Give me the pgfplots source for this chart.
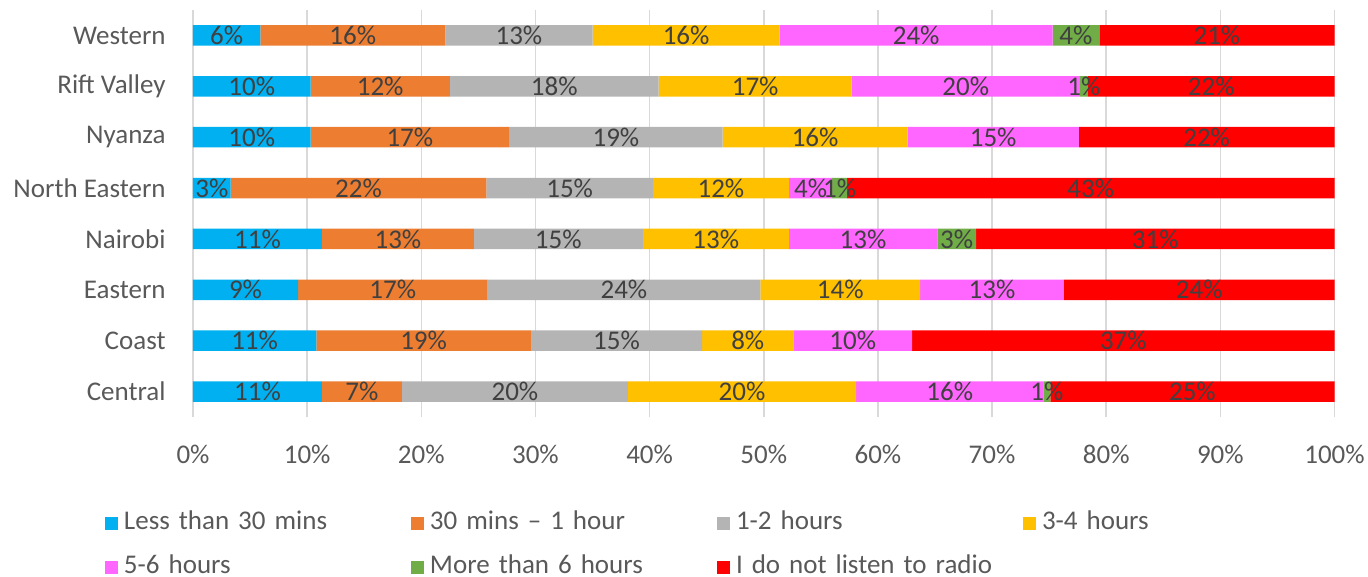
\documentclass[border=0pt]{standalone}
\usepackage{fontspec}
\setmainfont{Carlito}
\usepackage{pgfplots}
\usepackage{pgfplotstable}
\pgfplotsset{compat=1.18}

\definecolor{cLess}{HTML}{00B0F0}
\definecolor{cHalf}{HTML}{ED7D31}
\definecolor{cOneTwo}{HTML}{B4B4B4}
\definecolor{cThreeFour}{HTML}{FFC000}
\definecolor{cFiveSix}{HTML}{FF66FF}
\definecolor{cSix}{HTML}{70AD47}
\definecolor{cNone}{HTML}{FF0000}
\definecolor{txt}{HTML}{595959}
\definecolor{lbl}{HTML}{404040}
\definecolor{grd}{HTML}{D9D9D9}

% share of listeners per region (%), 0 = Central ... 7 = Western
% a: <30 min, b: 30 min-1 h, c: 1-2 h, d: 3-4 h, e: 5-6 h, f: >6 h, g: none
\pgfplotstableread{
idx a    b    c    d    e    f   g
0   11.3 7.0  19.8 20.0 16.4 0.6 24.9
1   10.8 18.8 15.0 8.0  10.4 0.0 37.0
2   9.2  16.6 23.9 14.0 12.6 0.0 23.7
3   11.3 13.3 14.8 12.8 13.0 3.4 31.4
4   3.3  22.4 14.6 11.9 3.8  1.3 42.7
5   10.3 17.4 18.7 16.2 15.0 0.0 22.4
6   10.3 12.2 18.3 16.9 20.0 0.7 21.6
7   5.9  16.2 12.9 16.4 23.9 4.1 20.6
}\radio

\newcommand\seg[3]{%
  \addplot[fill=#2, draw=none,
    legend image code/.code={\fill[#2] (0pt,-3.25pt) rectangle (6.5pt,3.25pt);}]
    table[x=#1, y=idx, meta=#1] {\radio};
  \addlegendentry{#3}}

\begin{document}
\fontsize{13.5}{16}\selectfont
\begin{tikzpicture}
\begin{axis}[
    at={(0,0)}, anchor=south west,
    scale only axis,
    width=570.75pt, height=203.5pt,
    xbar stacked,
    bar width=10.25pt,
    xmin=0, xmax=100,
    ymin=-0.5, ymax=7.5,
    xtick={0,10,...,100},
    xticklabel={\pgfmathprintnumber{\tick}\%},
    ytick={0,...,7},
    yticklabels={Central, Coast, Eastern, Nairobi, North Eastern, Nyanza, Rift Valley, Western},
    /pgf/number format/assume math mode=true,
    axis line style={draw=none},
    major tick length=0pt,
    xmajorgrids=true,
    grid style={grd, line width=0.75pt},
    xticklabel style={text=txt, anchor=north, inner sep=0pt, yshift=-14pt},
    yticklabel style={text=txt, anchor=east, inner sep=0pt, xshift=-13.5pt},
    clip=false,
    point meta=explicit,
    nodes near coords={\pgfmathfloatifflags{\pgfplotspointmeta}{0}{}{\pgfmathprintnumber[fixed, precision=0]{\pgfplotspointmeta}\%}},
    every node near coord/.append style={anchor=center, inner sep=0pt, text=lbl},
    legend columns=4,
    legend style={draw=none, fill=none,
        at={(0,0)}, anchor=north west,
        xshift=-44pt, yshift=-47pt,
        inner sep=0pt, outer sep=0pt,
        row sep=10pt,
        nodes={inner sep=0pt, text width=143.5pt, align=left,
               text height=9pt, text depth=3pt, text=txt},
        /tikz/every odd column/.append style={column sep=3pt}},
    legend cell align=left,
]
\seg{a}{cLess}{Less than 30 mins}
\seg{b}{cHalf}{30 mins -- 1 hour}
\seg{c}{cOneTwo}{1-2 hours}
\seg{d}{cThreeFour}{3-4 hours}
\seg{e}{cFiveSix}{5-6 hours}
\seg{f}{cSix}{More than 6 hours}
\seg{g}{cNone}{I do not listen to radio}
\end{axis}
\pgfresetboundingbox
\path[use as bounding box] (-96.5pt,-80pt) rectangle (587.5pt,208.5pt);
\end{tikzpicture}
\end{document}
